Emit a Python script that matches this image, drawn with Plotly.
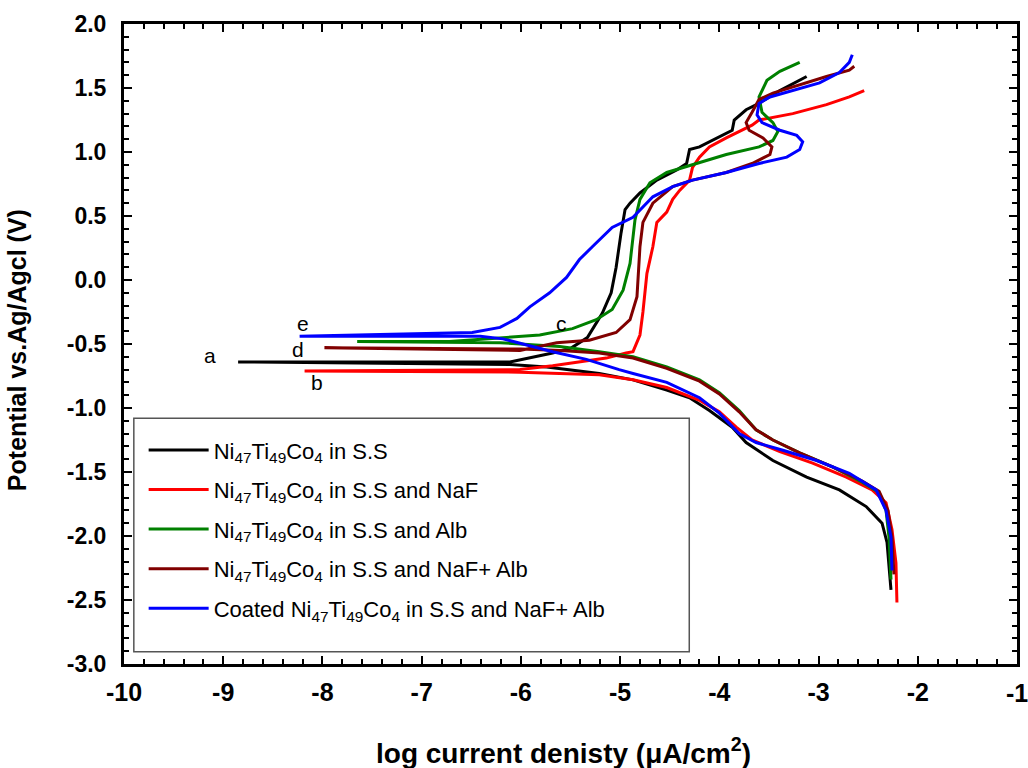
import plotly.graph_objects as go

# ---------------- data (log i, E) ----------------
black_x = [-2.27, -2.31, -2.36, -2.52, -2.79, -3.12, -3.46, -3.73, -3.87, -4.10, -4.30, -4.53, -4.87, -5.21, -5.74, -6.11, -8.85,
           -6.11, -5.68, -5.49, -5.33, -5.18, -5.09, -5.04, -4.99, -4.95, -4.90, -4.80, -4.63, -4.43, -4.33, -4.30, -4.20, -3.93, -3.87, -3.85, -3.73, -3.60, -3.39, -3.12]
black_y = [-2.42, -2.05, -1.90, -1.77, -1.64, -1.54, -1.41, -1.27, -1.15, -1.02, -0.92, -0.86, -0.78, -0.73, -0.68, -0.66, -0.64,
           -0.64, -0.57, -0.53, -0.45, -0.26, -0.10, 0.10, 0.37, 0.55, 0.60, 0.68, 0.78, 0.86, 0.91, 1.02, 1.04, 1.15, 1.17, 1.25, 1.33, 1.38, 1.48, 1.59]

red_x = [-2.21, -2.22, -2.26, -2.32, -2.46, -2.72, -3.06, -3.39, -3.67, -3.83, -4.00, -4.20, -4.53, -4.87, -5.21, -5.61, -6.01, -8.18,
         -6.01, -5.68, -5.14, -4.94, -4.87, -4.80, -4.77, -4.73, -4.67, -4.63, -4.53, -4.47, -4.40, -4.30, -4.27, -4.20, -4.10, -3.93, -3.80, -3.67, -3.60, -3.46, -3.26, -2.92, -2.69, -2.54]
red_y = [-2.52, -2.21, -1.95, -1.74, -1.64, -1.54, -1.43, -1.34, -1.25, -1.15, -1.03, -0.94, -0.84, -0.78, -0.74, -0.73, -0.72, -0.71,
         -0.70, -0.67, -0.61, -0.57, -0.56, -0.43, -0.25, 0.05, 0.26, 0.45, 0.53, 0.63, 0.70, 0.78, 0.88, 0.96, 1.04, 1.11, 1.16, 1.21, 1.25, 1.27, 1.30, 1.37, 1.43, 1.48]

green_x = [-2.27, -2.29, -2.32, -2.39, -2.56, -2.86, -3.19, -3.46, -3.63, -3.80, -4.00, -4.20, -4.53, -4.87, -5.21, -5.61, -6.21, -7.65,
           -6.72, -6.21, -5.81, -5.48, -5.24, -5.08, -4.97, -4.90, -4.85, -4.80, -4.70, -4.53, -4.27, -3.93, -3.60, -3.46, -3.41, -3.46, -3.57, -3.60, -3.52, -3.39, -3.19]
green_y = [-2.34, -2.01, -1.80, -1.66, -1.58, -1.46, -1.35, -1.25, -1.17, -1.02, -0.88, -0.78, -0.68, -0.60, -0.56, -0.52, -0.49, -0.48,
           -0.48, -0.45, -0.43, -0.38, -0.31, -0.23, -0.08, 0.13, 0.47, 0.63, 0.76, 0.84, 0.90, 0.98, 1.04, 1.09, 1.16, 1.23, 1.31, 1.43, 1.56, 1.63, 1.70]

brown_x = [-2.24, -2.26, -2.30, -2.39, -2.56, -2.86, -3.19, -3.46, -3.63, -3.80, -4.00, -4.20, -4.53, -4.87, -5.21, -5.60, -6.00, -7.98,
           -6.01, -5.64, -5.31, -5.04, -4.90, -4.83, -4.80, -4.77, -4.67, -4.47, -4.27, -3.93, -3.67, -3.49, -3.47, -3.56, -3.70, -3.73, -3.67, -3.60, -3.46, -3.26, -2.92, -2.69, -2.64]
brown_y = [-2.30, -2.01, -1.80, -1.65, -1.57, -1.46, -1.35, -1.25, -1.17, -1.03, -0.89, -0.79, -0.69, -0.61, -0.57, -0.55, -0.54, -0.53,
           -0.55, -0.49, -0.47, -0.41, -0.31, -0.13, 0.26, 0.45, 0.60, 0.73, 0.78, 0.84, 0.91, 0.98, 1.04, 1.11, 1.17, 1.23, 1.31, 1.41, 1.46, 1.51, 1.59, 1.64, 1.67]

blue_x = [-2.26, -2.27, -2.32, -2.42, -2.69, -3.02, -3.36, -3.63, -3.80, -4.00, -4.20, -4.53, -4.87, -5.01, -5.34, -5.68, -6.18, -6.41, -8.23,
          -6.82, -6.49, -6.21, -6.04, -5.91, -5.71, -5.54, -5.41, -5.28, -5.08, -4.87, -4.67, -4.47, -4.27, -3.93, -3.60, -3.32, -3.19, -3.16, -3.22, -3.39, -3.57, -3.62, -3.60, -3.49, -3.26, -2.99, -2.79, -2.69, -2.66]
blue_y = [-2.27, -2.01, -1.80, -1.64, -1.51, -1.41, -1.33, -1.27, -1.20, -1.04, -0.92, -0.80, -0.73, -0.70, -0.62, -0.56, -0.46, -0.44, -0.44,
          -0.42, -0.41, -0.37, -0.30, -0.21, -0.10, 0.02, 0.16, 0.26, 0.41, 0.49, 0.65, 0.73, 0.78, 0.84, 0.91, 0.96, 1.02, 1.08, 1.13, 1.17, 1.23, 1.29, 1.38, 1.43, 1.48, 1.54, 1.62, 1.70, 1.76]

series_names = [
    "Ni<sub>47</sub>Ti<sub>49</sub>Co<sub>4</sub> in S.S",
    "Ni<sub>47</sub>Ti<sub>49</sub>Co<sub>4</sub> in S.S and NaF",
    "Ni<sub>47</sub>Ti<sub>49</sub>Co<sub>4</sub> in S.S and Alb",
    "Ni<sub>47</sub>Ti<sub>49</sub>Co<sub>4</sub> in S.S and NaF+ Alb",
    "Coated Ni<sub>47</sub>Ti<sub>49</sub>Co<sub>4</sub> in S.S and NaF+ Alb",
]
series_colors = ["#000000", "#ff0000", "#008000", "#800000", "#0000ff"]

curve_labels = ["a", "b", "c", "d", "e"]
label_x = [-9.13, -8.05, -5.59, -8.25, -8.20]
label_y = [-0.59, -0.80, -0.34, -0.54, -0.34]

x_ticks = list(range(-10, 0))
y_ticks = [2.0, 1.5, 1.0, 0.5, 0.0, -0.5, -1.0, -1.5, -2.0, -2.5, -3.0]

FONT = "Liberation Sans"

# ---------------- figure ----------------
fig = go.Figure()
data = [(black_x, black_y), (red_x, red_y), (green_x, green_y), (brown_x, brown_y), (blue_x, blue_y)]
for i, ((xs, ys), name, col) in enumerate(zip(data, series_names, series_colors)):
    fig.add_trace(go.Scatter(x=xs, y=ys, mode="lines", name=name, legendgroup=f"g{i}",
                             line=dict(color=col, width=3)))

for t, lx, ly in zip(curve_labels, label_x, label_y):
    fig.add_annotation(x=lx, y=ly, text=t, showarrow=False,
                       font=dict(family=FONT, size=21, color="black"))

# last x tick label sits on the page edge; draw it explicitly so it is not culled
fig.add_annotation(x=x_ticks[-1], xref="x", y=0, yref="paper", yanchor="middle", yshift=-29,
                   text=str(x_ticks[-1]), showarrow=False,
                   font=dict(family=FONT, size=25, color="black", weight="bold"))

# legend frame
fig.add_shape(type="rect", xref="paper", yref="paper", x0=0.011, x1=0.633, y0=0.019, y1=0.384,
              line=dict(color="#555555", width=1.5), fillcolor="white", layer="below")

axis_common = dict(showline=True, linecolor="black", linewidth=3, mirror="allticks",
                   ticks="inside", tickcolor="black", tickwidth=2, ticklen=8,
                   showgrid=False, zeroline=False, automargin=False)

fig.update_xaxes(range=[-10, -1], tickvals=x_ticks[:-1], ticktext=[str(v) for v in x_ticks[:-1]],
                 minor=dict(dtick=0.2, ticks="inside", ticklen=5, tickwidth=1.5, tickcolor="black"),
                 tickfont=dict(family=FONT, size=25, color="black", weight="bold"),
                 ticklabelstandoff=4,
                 **axis_common)
fig.update_yaxes(range=[-3, 2], tickvals=y_ticks, ticktext=[f"{v:.1f}" for v in y_ticks],
                 minor=dict(dtick=0.1, ticks="inside", ticklen=5, tickwidth=1.5, tickcolor="black"),
                 tickfont=dict(family=FONT, size=23, color="black", weight="bold"),
                 ticklabelstandoff=10,
                 **axis_common)

fig.add_annotation(xref="paper", yref="paper", x=0.492, y=-0.136, yanchor="middle",
                   text="log current denisty (\u03bcA/cm<sup>2</sup>)", showarrow=False,
                   font=dict(family=FONT, size=28, color="black", weight="bold"))
fig.add_annotation(xref="paper", yref="paper", x=-0.119, y=0.49, xanchor="center", yanchor="middle",
                   textangle=-90, text="Potential vs.Ag/Agcl (V)", showarrow=False,
                   font=dict(family=FONT, size=25, color="black", weight="bold"))

fig.update_layout(
    width=1028, height=768,
    margin=dict(l=124, r=11, t=24, b=104),
    plot_bgcolor="white", paper_bgcolor="white",
    showlegend=True,
    legend=dict(x=0.022, y=0.367, xanchor="left", yanchor="top", bgcolor="rgba(0,0,0,0)",
                borderwidth=0, tracegroupgap=8, traceorder="grouped", itemwidth=60,
                font=dict(family=FONT, size=22, color="black")),
)

fig.write_html("out.html", config={"displayModeBar": False},
               post_script="document.body.style.margin='0';document.body.style.overflow='hidden';")
